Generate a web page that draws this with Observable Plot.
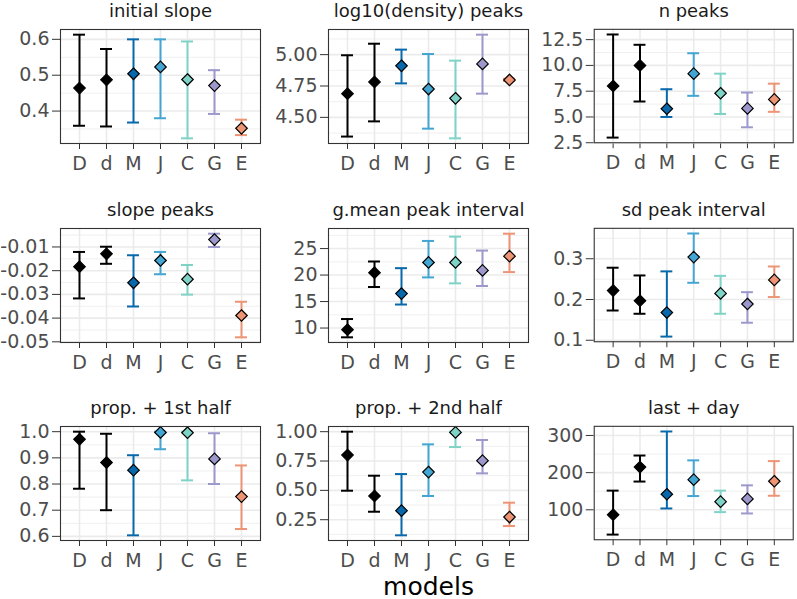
<!DOCTYPE html>
<html><head><meta charset="utf-8">
<script src="https://cdn.jsdelivr.net/npm/d3@7"></script>
<script src="https://cdn.jsdelivr.net/npm/@observablehq/plot@0.6"></script>
<style>
html,body{margin:0;padding:0;background:#fff;}
#chart{position:relative;width:797px;height:599px;overflow:hidden;font-family:"DejaVu Sans",sans-serif;background:#fff;}
#chart .panel{position:absolute;}
#chart svg{overflow:visible;}
#chart g[aria-label^="x-axis"] text, #chart g[aria-label^="y-axis"] text{fill:#4D4D4D;}
</style></head><body><div id="chart"></div>
<script>
const categories = ["D","d","M","J","C","G","E"];
const colors = ["#000000","#000000","#0868ac","#43a5d2","#7fd3c6","#9c98cb","#ec9474"];
const titles = ["initial slope","log10(density) peaks","n peaks","slope peaks","g.mean peak interval","sd peak interval","prop. + 1st half","prop. + 2nd half","last + day"];
const xTitle = "models";

const initSlopeMid = [0.464, 0.487, 0.504, 0.523, 0.488, 0.471, 0.352];
const initSlopeLo  = [0.359, 0.357, 0.368, 0.380, 0.324, 0.392, 0.333];
const initSlopeHi  = [0.613, 0.573, 0.600, 0.600, 0.594, 0.514, 0.376];
const initSlopeTicks = ["0.4","0.5","0.6"];

const densityMid = [4.689, 4.782, 4.911, 4.726, 4.652, 4.926, 4.798];
const densityLo  = [4.347, 4.468, 4.771, 4.410, 4.333, 4.689, 4.790];
const densityHi  = [4.995, 5.087, 5.040, 5.005, 4.952, 5.159, 4.808];
const densityTicks = ["4.50","4.75","5.00"];

const nPeaksMid = [8.0, 10.0, 5.8, 9.2, 7.3, 5.83, 6.7];
const nPeaksLo  = [3.0, 6.5, 5.0, 7.05, 5.29, 4.0, 5.5];
const nPeaksHi  = [13.0, 12.0, 7.69, 11.18, 9.2, 7.37, 8.23];
const nPeaksTicks = ["2.5","5.0","7.5","10.0","12.5"];

const slopePeaksMid = [-0.0183, -0.0129, -0.0251, -0.0157, -0.0236, -0.0069, -0.0389];
const slopePeaksLo  = [-0.0317, -0.0171, -0.0351, -0.0215, -0.0301, -0.0100, -0.0481];
const slopePeaksHi  = [-0.0121, -0.0099, -0.0135, -0.0121, -0.0176, -0.0044, -0.0331];
const slopePeaksTicks = ["-0.05","-0.04","-0.03","-0.02","-0.01"];

const gmeanMid = [9.7, 20.44, 16.5, 22.38, 22.38, 20.88, 23.56];
const gmeanLo  = [8.25, 17.75, 14.44, 19.56, 18.44, 17.94, 20.56];
const gmeanHi  = [11.7, 22.56, 21.3, 26.44, 27.25, 24.62, 27.81];
const gmeanTicks = ["10","15","20","25"];

const sdMid = [0.222, 0.197, 0.168, 0.304, 0.215, 0.189, 0.248];
const sdLo  = [0.173, 0.165, 0.109, 0.241, 0.165, 0.143, 0.206];
const sdHi  = [0.278, 0.259, 0.269, 0.362, 0.258, 0.218, 0.281];
const sdTicks = ["0.1","0.2","0.3"];

const prop1Mid = [0.971, 0.882, 0.853, 0.997, 0.996, 0.896, 0.752];
const prop1Lo  = [0.782, 0.700, 0.604, 0.933, 0.814, 0.800, 0.628];
const prop1Hi  = [1.0, 0.992, 0.910, 1.0, 1.0, 0.994, 0.871];
const prop1Ticks = ["0.6","0.7","0.8","0.9","1.0"];

const prop2Mid = [0.801, 0.452, 0.327, 0.656, 0.994, 0.753, 0.273];
const prop2Lo  = [0.497, 0.318, 0.117, 0.452, 0.869, 0.645, 0.196];
const prop2Hi  = [1.0, 0.625, 0.639, 0.892, 1.0, 0.929, 0.395];
const prop2Ticks = ["0.25","0.50","0.75","1.00"];

const lastDayMid = [86.7, 215, 141.8, 181, 122, 129.3, 176.9];
const lastDayLo  = [33.3, 176, 103.6, 137, 93.8, 90.2, 137.8];
const lastDayHi  = [151.6, 246, 310.7, 233, 151.6, 165.8, 231];
const lastDayTicks = ["100","200","300"];

const panels = [
  [initSlopeMid, initSlopeLo, initSlopeHi, initSlopeTicks],
  [densityMid, densityLo, densityHi, densityTicks],
  [nPeaksMid, nPeaksLo, nPeaksHi, nPeaksTicks],
  [slopePeaksMid, slopePeaksLo, slopePeaksHi, slopePeaksTicks],
  [gmeanMid, gmeanLo, gmeanHi, gmeanTicks],
  [sdMid, sdLo, sdHi, sdTicks],
  [prop1Mid, prop1Lo, prop1Hi, prop1Ticks],
  [prop2Mid, prop2Lo, prop2Hi, prop2Ticks],
  [lastDayMid, lastDayLo, lastDayHi, lastDayTicks]
];

const ML = 56, MR = 4, MT = 34, FH = 114, FW = 200;
const colLefts = [60, 327.5, 594.3];
const rowTops = [29.3, 227.7, 426];
const chart = document.getElementById("chart");

panels.forEach(([mid, lo, hi, ticks], k) => {
  const row = Math.floor(k / 3), col = k % 3;
  const MB = row === 2 ? 60 : 34;
  const rows = categories.map((c, i) => ({cat: c, color: colors[i], mid: mid[i], lo: lo[i], hi: hi[i]}));
  const tv = ticks.map(Number);
  const lbl = new Map(tv.map((v, i) => [v, ticks[i]]));
  const dmin = d3.min(lo), dmax = d3.max(hi), pad = (dmax - dmin) * 0.05;
  const dom = [dmin - pad, dmax + pad];
  const step = tv[1] - tv[0];
  const minors = [];
  for (let v = tv[0] - step / 2; v <= dom[1] + 1e-12; v += step) if (v >= dom[0]) minors.push(v);
  const marks = [
    Plot.ruleY(minors, {stroke: "#EEEEEE", strokeWidth: 0.9}),
    Plot.ruleY(tv, {stroke: "#EBEBEB", strokeWidth: 1.6}),
    Plot.ruleX(categories, {stroke: "#EBEBEB", strokeWidth: 1.6}),
    Plot.ruleX(rows, {x: "cat", y1: "lo", y2: "hi", stroke: d => d.color, strokeWidth: 2}),
    Plot.tickY(rows, {x: "cat", y: "lo", stroke: d => d.color, strokeWidth: 2}),
    Plot.tickY(rows, {x: "cat", y: "hi", stroke: d => d.color, strokeWidth: 2}),
    Plot.dot(rows, {x: "cat", y: "mid", fill: d => d.color, stroke: "#000", strokeWidth: 1.2, symbol: "diamond2", r: 5.2}),
    Plot.frame({stroke: "#333333", strokeWidth: 1.1}),
    Plot.text([titles[k]], {text: d => d, frameAnchor: "top", dy: -18, lineAnchor: "middle", fontSize: 18, fill: "#1A1A1A"})
  ];
  if (k === 7) marks.push(Plot.text([xTitle], {text: d => d, frameAnchor: "bottom", dy: 46, lineAnchor: "middle", fontSize: 25, fill: "#000"}));
  const svg = Plot.plot({
    width: ML + FW + MR,
    height: MT + FH + MB,
    marginLeft: ML, marginRight: MR, marginTop: MT, marginBottom: MB,
    style: {fontFamily: "DejaVu Sans, sans-serif", fontSize: "19px", color: "#333333", background: "transparent", overflow: "visible"},
    color: {type: "identity"},
    x: {type: "band", domain: categories, paddingInner: 0.55, paddingOuter: 0.375, tickSize: 6, tickPadding: 7, label: null},
    y: {domain: dom, ticks: tv, tickFormat: d => lbl.get(d) ?? "", tickSize: 8, tickPadding: 3, label: null},
    marks
  });
  const div = document.createElement("div");
  div.className = "panel";
  div.style.left = (colLefts[col] - ML) + "px";
  div.style.top = (rowTops[row] - MT) + "px";
  div.appendChild(svg);
  chart.appendChild(div);
});
</script>
</body></html>
